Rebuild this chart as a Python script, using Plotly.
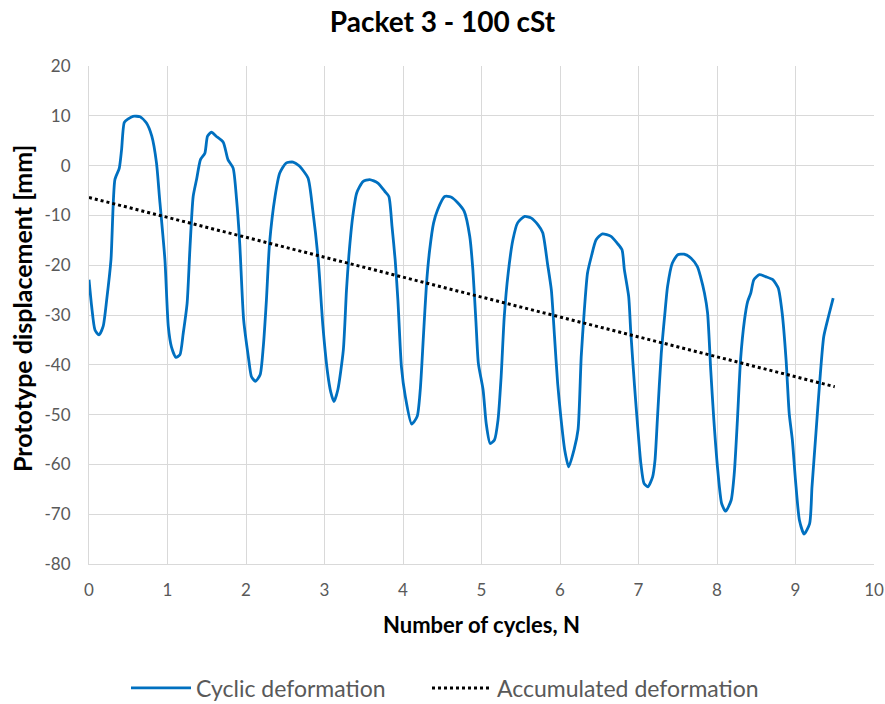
import plotly.graph_objects as go

# Cyclic deformation
cyc_x = [0.0, 0.034, 0.076, 0.127, 0.18, 0.225, 0.28, 0.33, 0.386, 0.415, 0.45, 0.5, 0.56, 0.65, 0.73, 0.80, 0.86, 0.90, 0.967,
         1.01, 1.05, 1.107, 1.158, 1.2, 1.25, 1.285, 1.327, 1.37, 1.42, 1.476, 1.51, 1.56, 1.62, 1.71, 1.77, 1.836, 1.88, 1.92, 1.97,
         2.03, 2.07, 2.12, 2.18, 2.22, 2.26, 2.30, 2.37, 2.43, 2.51, 2.6, 2.68, 2.79, 2.85, 2.92, 2.98,
         3.04, 3.08, 3.12, 3.17, 3.24, 3.28, 3.31, 3.36, 3.41, 3.49, 3.575, 3.68, 3.77, 3.82, 3.86, 3.9, 3.935, 3.98,
         4.03, 4.11, 4.18, 4.22, 4.26, 4.30, 4.34, 4.39, 4.44, 4.53, 4.61, 4.70, 4.78, 4.85, 4.89, 4.93, 4.96,
         5.02, 5.06, 5.11, 5.165, 5.21, 5.25, 5.29, 5.34, 5.40, 5.46, 5.55, 5.63, 5.72, 5.78, 5.84, 5.89, 5.93, 5.97,
         6.01, 6.06, 6.11, 6.18, 6.23, 6.27, 6.31, 6.35, 6.40, 6.46, 6.54, 6.65, 6.73, 6.79, 6.82, 6.875, 6.90, 6.95, 6.99,
         7.03, 7.07, 7.12, 7.18, 7.21, 7.24, 7.29, 7.34, 7.37, 7.43, 7.50, 7.58, 7.67, 7.75, 7.79, 7.84, 7.88, 7.92, 7.96,
         8.01, 8.06, 8.11, 8.18, 8.22, 8.26, 8.30, 8.35, 8.39, 8.43, 8.47, 8.54, 8.62, 8.71, 8.78, 8.83, 8.88, 8.92, 8.96,
         9.00, 9.05, 9.11, 9.18, 9.21, 9.26, 9.31, 9.36, 9.42, 9.48]
cyc_y = [-22.9, -28.3, -33.0, -34.0, -32.3, -27.0, -18.9, -2.8, -0.5, 3.2, 8.7, 9.4, 9.9, 9.8, 8.6, 5.9, 0.5, -6.8, -18.9,
         -32.3, -36.4, -38.5, -38.0, -33.7, -27.6, -16.9, -6.2, -2.8, 1.2, 2.5, 5.9, 6.7, 5.9, 4.7, 1.2, -0.5, -6.8, -15.6, -31.0,
         -38.4, -42.4, -43.3, -42.0, -36.4, -27.0, -15.6, -6.2, -1.5, 0.5, 0.7, -0.1, -2.5, -8.9, -18.9, -32.3,
         -41.7, -45.5, -47.4, -45.0, -37.0, -25.0, -18.2, -10.2, -5.5, -3.2, -2.8, -3.5, -5.2, -6.2, -12.2, -18.9, -27.0, -40.4,
         -46.4, -51.9, -50.4, -45.0, -34.3, -23.6, -16.9, -11.5, -8.9, -6.2, -6.3, -7.5, -9.2, -14.2, -20.9, -31.6, -39.7,
         -45.0, -51.8, -55.8, -55.1, -51.1, -42.4, -30.3, -21.6, -14.9, -11.5, -10.2, -10.5, -11.9, -13.5, -19.6, -25.0, -34.3, -43.7,
         -50.4, -57.1, -60.5, -57.0, -53.0, -38.4, -29.0, -21.6, -18.2, -14.9, -13.7, -14.2, -15.6, -16.9, -20.9, -26.3, -33.0, -44.4, -52.5,
         -59.8, -63.8, -64.5, -62.5, -59.2, -51.1, -37.7, -29.0, -24.3, -19.6, -17.9, -17.8, -18.6, -20.3, -22.3, -25.6, -29.6, -41.0, -51.1,
         -61.2, -67.9, -69.4, -67.2, -61.8, -51.1, -39.0, -31.0, -27.3, -25.6, -22.9, -21.9, -22.3, -22.9, -24.6, -29.6, -39.0, -49.8, -55.1,
         -63.2, -71.2, -74.0, -71.9, -64.5, -53.8, -43.1, -34.3, -30.3, -26.6]

# Accumulated deformation (trend line end points)
acc_x = [0.0, 9.5]
acc_y = [-6.4, -44.4]

x_ticks = [0, 1, 2, 3, 4, 5, 6, 7, 8, 9, 10]
x_tick_labels = ["0", "1", "2", "3", "4", "5", "6", "7", "8", "9", "10"]
y_ticks = [20, 10, 0, -10, -20, -30, -40, -50, -60, -70, -80]
y_tick_labels = ["20", "10", "0", "-10", "-20", "-30", "-40", "-50", "-60", "-70", "-80"]

FONT = "Lato"
GREY = "#595959"
W, H = 885, 704

fig = go.Figure()
fig.add_trace(go.Scatter(x=cyc_x, y=cyc_y, mode="lines", name="Cyclic deformation", legend="legend",
                         line=dict(color="#0070C0", width=2.8, shape="spline", smoothing=0.6)))
fig.add_trace(go.Scatter(x=acc_x, y=acc_y, mode="lines", name="Accumulated deformation", legend="legend2",
                         line=dict(color="black", width=3, dash="dot")))

leg_common = dict(orientation="h", xref="container", yref="container", xanchor="left", yanchor="middle",
                  font=dict(family=FONT, size=23, color=GREY), itemwidth=60, bgcolor="rgba(0,0,0,0)")

fig.update_layout(
    width=W, height=H,
    margin=dict(l=89, r=11, t=66, b=140),
    paper_bgcolor="white", plot_bgcolor="white",
    title=dict(text="<b>Packet 3 - 100 cSt</b>", x=0.5, xanchor="center", xref="container",
               y=1 - 22 / H, yanchor="middle",
               font=dict(family=FONT, size=28, color="black")),
    font=dict(family=FONT, color=GREY, size=17),
    xaxis=dict(range=[0, 10], tickvals=x_ticks, ticktext=x_tick_labels,
               showgrid=True, gridcolor="#d9d9d9", gridwidth=1,
               showline=True, linecolor="#d9d9d9", linewidth=1, automargin=False,
               zeroline=False, ticks="outside", ticklen=11, tickcolor="rgba(0,0,0,0)",
               tickfont=dict(family=FONT, size=17, color=GREY)),
    yaxis=dict(range=[-80, 20], tickvals=y_ticks, ticktext=y_tick_labels,
               showgrid=True, gridcolor="#d9d9d9", gridwidth=1,
               showline=True, linecolor="#d9d9d9", linewidth=1, automargin=False,
               zeroline=False, ticks="outside", ticklen=14, tickcolor="rgba(0,0,0,0)",
               tickfont=dict(family=FONT, size=17, color=GREY)),
    legend=dict(x=(132 - 6) / W, y=1 - 688 / H, **leg_common),
    legend2=dict(x=(432 - 5) / W, y=1 - 688 / H, **leg_common),
    showlegend=True,
    annotations=[
        dict(text="<b>Number of cycles, N</b>", xref="paper", yref="paper", x=0.5, y=-0.1205,
             xanchor="center", yanchor="middle", showarrow=False,
             font=dict(family=FONT, size=22, color="black")),
        dict(text="<b>Prototype displacement [mm]</b>", xref="paper", yref="paper", x=-0.0854, y=0.514,
             xanchor="center", yanchor="middle", showarrow=False, textangle=-90,
             font=dict(family=FONT, size=25, color="black")),
    ],
)

fig.write_html("out.html")
